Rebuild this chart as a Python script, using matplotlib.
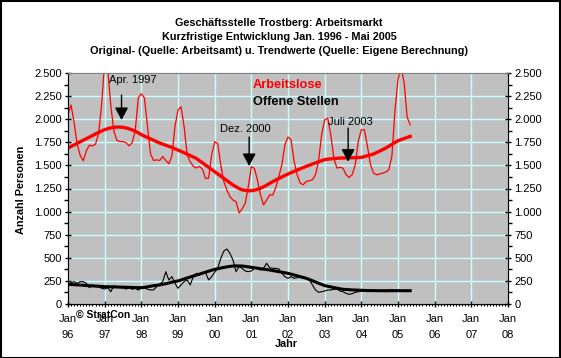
"""
Arbeitsmarkt Trostberg: Arbeitslose und offene Stellen (Original + Trend)
"""
import matplotlib
matplotlib.use("Agg")
import matplotlib.pyplot as plt
from matplotlib.ticker import FixedLocator, MultipleLocator, FuncFormatter
from matplotlib.patches import Rectangle
import numpy as np

plt.rcParams['font.family'] = ['Liberation Sans', 'DejaVu Sans']

# Monatswerte Jan. 1996 - Mai 2005 (113 Monate)
start_year = 1996
arbeitslose = [
    2054, 2154, 1964, 1730, 1607, 1550, 1657, 1720, 1710, 1730, 1840, 2160,
    2620, 2550, 2150, 1875, 1771, 1757, 1757, 1746, 1711, 1746, 1875, 2232,
    2275, 2232, 1928, 1625, 1553, 1560, 1553, 1596, 1553, 1518, 1600, 1920,
    2100, 2135, 1920, 1612, 1540, 1490, 1472, 1490, 1458, 1360, 1360, 1612,
    1756, 1738, 1504, 1324, 1234, 1162, 1125, 1107, 985, 1030, 1090, 1270,
    1486, 1468, 1342, 1180, 1072, 1125, 1180, 1180, 1260, 1380, 1510, 1724,
    1807, 1778, 1544, 1399, 1309, 1291, 1327, 1334, 1345, 1399, 1544, 1832,
    1994, 2012, 1832, 1580, 1471, 1479, 1471, 1399, 1370, 1399, 1507, 1760,
    1886, 1886, 1706, 1507, 1417, 1399, 1406, 1417, 1428, 1453, 1600, 2090,
    2430, 2560, 2400, 2020, 1940,
]
arbeitslose_trend = [
    1688, 1705, 1722, 1739, 1756, 1772, 1789, 1806, 1823, 1840, 1857, 1872,
    1887, 1897, 1906, 1912, 1915, 1915, 1912, 1905, 1896, 1884, 1870, 1852,
    1832, 1817, 1802, 1787, 1772, 1757, 1742, 1730, 1718, 1706, 1695, 1680,
    1666, 1652, 1637, 1622, 1606, 1591, 1576, 1552, 1528, 1504, 1480, 1456,
    1432, 1408, 1384, 1360, 1336, 1312, 1288, 1268, 1250, 1236, 1229, 1226,
    1226, 1232, 1241, 1252, 1268, 1286, 1305, 1324, 1342, 1358, 1375, 1391,
    1407, 1421, 1435, 1449, 1463, 1477, 1490, 1502, 1515, 1527, 1539, 1551,
    1562, 1567, 1571, 1574, 1577, 1579, 1580, 1581, 1582, 1583, 1584, 1585,
    1587, 1595, 1605, 1614, 1623, 1639, 1655, 1671, 1688, 1708, 1728, 1748,
    1767, 1779, 1791, 1803, 1814,
]
offene_stellen = [
    206, 231, 242, 224, 242, 242, 224, 177, 206, 188, 188, 170,
    162, 177, 133, 198, 188, 177, 177, 162, 177, 159, 170, 152,
    170, 180, 159, 152, 152, 188, 213, 242, 350, 260, 296, 224,
    170, 206, 242, 260, 206, 296, 332, 314, 332, 343, 260, 296,
    343, 386, 494, 573, 595, 548, 476, 350, 404, 386, 357, 350,
    357, 386, 386, 368, 386, 440, 393, 386, 386, 379, 332, 296,
    278, 296, 278, 285, 296, 285, 278, 260, 206, 152, 126, 133,
    141, 152, 152, 159, 162, 141, 133, 115, 105, 112, 126, 133,
    141, 141, 133, 141, 148, 141, 152, 141, 133, 148, 155, 141,
    152, 141, 148, 133, 144,
]
offene_stellen_trend = [
    213, 211, 209, 207, 205, 203, 200, 198, 196, 194, 192, 190,
    188, 187, 186, 185, 184, 183, 182, 181, 180, 179, 178, 177,
    177, 180, 186, 192, 198, 202, 206, 213, 220, 228, 236, 243,
    250, 260, 271, 282, 292, 303, 313, 323, 334, 344, 355, 365,
    375, 382, 389, 396, 402, 407, 411, 412, 412, 411, 407, 402,
    397, 392, 387, 382, 377, 373, 368, 362, 356, 350, 344, 338,
    332, 323, 314, 305, 296, 287, 278, 265, 252, 238, 225, 212,
    199, 192, 185, 178, 171, 165, 159, 157, 155, 153, 151, 150,
    148, 147, 146, 145, 145, 144, 144, 144, 144, 144, 144, 144,
    144, 144, 144, 144, 144,
]

jahre = list(range(1996, 2009))
jahr_labels = [f"Jan\n{j % 100:02d}" for j in jahre]

# Markierungen: (Text, Pfeil-x, Pfeilspitze, Pfeilende, Text-x, Text-y)
markierungen = [
    ("Apr. 1997", 1997.46, 1991, 2261, 1997.76, 2424),
    ("Dez. 2000", 2000.94, 1493, 1807, 2000.83, 1894),
    ("Juli 2003", 2003.64, 1540, 1904, 2003.70, 1969),
]

t = start_year + np.arange(len(arbeitslose)) / 12.0

W, H = 561, 358
fig = plt.figure(figsize=(W / 100, H / 100), dpi=100, facecolor='white')
ax = fig.add_axes([68 / W, 1 - 304 / H, 440 / W, 231 / H])
ax.set_facecolor('#c0c0c0')

ax.set_xlim(1996, 2008)
ax.set_ylim(0, 2500)

# Gitter
ax.xaxis.set_major_locator(FixedLocator(jahre))
ax.yaxis.set_major_locator(MultipleLocator(250))
ax.yaxis.set_minor_locator(MultipleLocator(125))
ax.xaxis.set_minor_locator(MultipleLocator(1 / 12))
ax.grid(True, which='major', color='#c8ffff', linewidth=1.0)
ax.set_axisbelow(True)

ax.plot(t, arbeitslose, color='red', linewidth=0.9, zorder=3)
ax.plot(t, arbeitslose_trend, color='red', linewidth=2.4, zorder=4)
ax.plot(t, offene_stellen, color='black', linewidth=0.8, zorder=3)
ax.plot(t, offene_stellen_trend, color='black', linewidth=2.2, zorder=4)

for text, x, tip, tail, xtxt, ytxt in markierungen:
    ax.annotate('', xy=(x, tip), xytext=(x, tail),
                arrowprops=dict(arrowstyle='-|>,head_length=0.75,head_width=0.4',
                                color='black', lw=1.0, shrinkA=0, shrinkB=0),
                zorder=5)
    ax.text(xtxt, ytxt, text, ha='center', va='center', fontsize=8, zorder=5)

fmt = FuncFormatter(lambda v, p: f"{int(v):,}".replace(",", "."))
ax.yaxis.set_major_formatter(fmt)
ax.set_xticklabels(jahr_labels, linespacing=1.75)

ax.tick_params(axis='both', which='major', direction='inout', length=5,
               width=1, labelsize=8, colors='black')
ax.tick_params(axis='y', which='minor', direction='out', length=3, width=1)
ax.tick_params(axis='x', which='minor', direction='out', length=1.5, width=0.8)
ax.tick_params(axis='x', which='major', pad=5)
ax.tick_params(axis='y', which='major', pad=2)

ax2 = ax.twinx()
ax2.set_ylim(0, 2500)
ax2.yaxis.set_major_locator(MultipleLocator(250))
ax2.yaxis.set_minor_locator(MultipleLocator(125))
ax2.yaxis.set_major_formatter(fmt)
ax2.tick_params(axis='y', which='major', direction='inout', length=5, width=1,
                labelsize=8, pad=2)
ax2.tick_params(axis='y', which='minor', direction='out', length=3, width=1)

for a in (ax, ax2):
    a.spines['top'].set_color('#808080')
    a.spines['left'].set_color('black')
    a.spines['right'].set_color('black')
    a.spines['bottom'].set_color('black')

# Titel
title_lines = [
    "Geschäftsstelle Trostberg: Arbeitsmarkt",
    "Kurzfristige Entwicklung Jan. 1996 - Mai 2005",
    "Original- (Quelle: Arbeitsamt) u. Trendwerte (Quelle: Eigene Berechnung)",
]
for line, yy in zip(title_lines, [22.5, 36.5, 51]):
    fig.text(279 / W, 1 - yy / H, line, ha='center', va='center',
             fontsize=7.8, fontweight='bold')

# Legende
fig.text(253 / W, 1 - 85 / H, "Arbeitslose", color='red', fontsize=9.2,
         fontweight='bold', ha='left', va='center')
fig.text(253 / W, 1 - 102 / H, "Offene Stellen", color='black', fontsize=9.2,
         fontweight='bold', ha='left', va='center')

fig.text(21 / W, 1 - 190 / H, "Anzahl Personen", rotation=90, fontsize=7.8,
         fontweight='bold', ha='center', va='center')
fig.text(286 / W, 1 - 344 / H, "Jahr", fontsize=7.8, fontweight='bold',
         ha='center', va='center')
fig.text(76 / W, 1 - 315 / H, "© StratCon", fontsize=7.5, fontweight='bold',
         ha='left', va='center', zorder=10)

# Rahmen
fig.patches.append(Rectangle((0.5 / W, 0.5 / H), 1 - 1.5 / W, 1 - 1.5 / H,
                             transform=fig.transFigure, fill=False,
                             edgecolor='black', linewidth=1.5))

fig.savefig("out.png", dpi=100, facecolor='white')
